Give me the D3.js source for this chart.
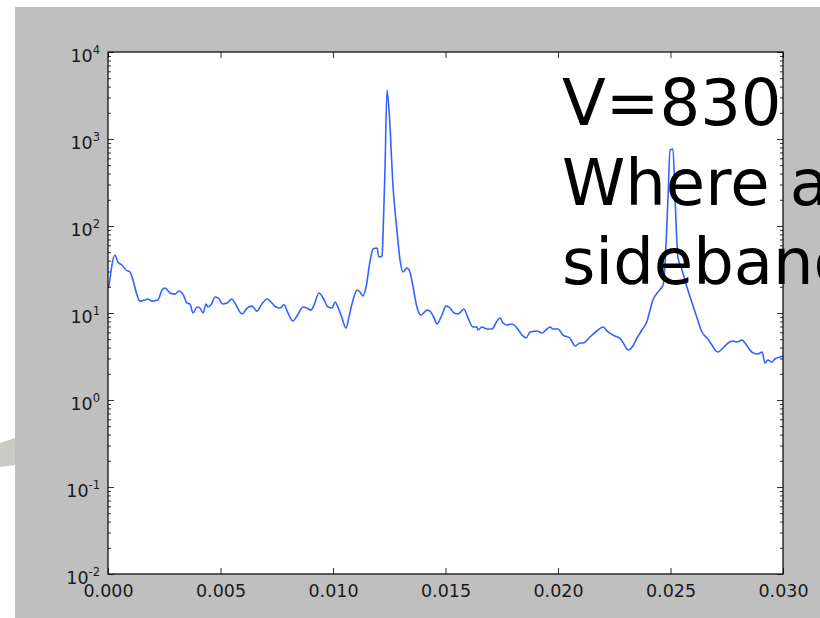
<!DOCTYPE html>
<html>
<head>
<meta charset="utf-8">
<script src="https://cdn.jsdelivr.net/npm/d3@7"></script>
<style>
  html, body { margin: 0; padding: 0; background: #ffffff; }
  svg { display: block; }
  text { font-family: "DejaVu Sans", sans-serif; }
</style>
</head>
<body>
<svg id="chart" width="820" height="618"></svg>
<script>
// ---- data ----
const freq = [
  0.00004, 0.00031, 0.00044, 0.00062, 0.00080, 0.00098, 0.00111, 0.00129, 0.00142, 0.00164,
  0.00178, 0.00196, 0.00222, 0.00240, 0.00253, 0.00276, 0.00298, 0.00316, 0.00333, 0.00351,
  0.00364, 0.00378, 0.00396, 0.00409, 0.00422, 0.00436, 0.00444, 0.00458, 0.00476, 0.00489,
  0.00511, 0.00529, 0.00551, 0.00564, 0.00596, 0.00618, 0.00640, 0.00662, 0.00684, 0.00707,
  0.00729, 0.00747, 0.00764, 0.00782, 0.00800, 0.00822, 0.00840, 0.00867, 0.00884, 0.00902,
  0.00916, 0.00938, 0.00956, 0.00978, 0.00996, 0.01009, 0.01022, 0.01040, 0.01058, 0.01071,
  0.01089, 0.01107, 0.01120, 0.01133, 0.01147, 0.01164, 0.01178, 0.01196, 0.01204, 0.01218,
  0.01222, 0.01231, 0.01240, 0.01249, 0.01267, 0.01284, 0.01298, 0.01311, 0.01329, 0.01342,
  0.01356, 0.01373, 0.01391, 0.01418, 0.01431, 0.01449, 0.01462, 0.01484, 0.01502, 0.01516,
  0.01538, 0.01556, 0.01582, 0.01600, 0.01622, 0.01640, 0.01644, 0.01662, 0.01684, 0.01707,
  0.01724, 0.01742, 0.01756, 0.01773, 0.01796, 0.01818, 0.01840, 0.01858, 0.01876, 0.01907,
  0.01929, 0.01951, 0.01964, 0.01978, 0.02000, 0.02022, 0.02053, 0.02076, 0.02098, 0.02111,
  0.02142, 0.02173, 0.02200, 0.02222, 0.02253, 0.02276, 0.02298, 0.02311, 0.02333, 0.02351,
  0.02373, 0.02396, 0.02409, 0.02422, 0.02444, 0.02462, 0.02467, 0.02476, 0.02489, 0.02498,
  0.02511, 0.02520, 0.02533, 0.02551, 0.02573, 0.02596, 0.02618, 0.02640, 0.02662, 0.02684,
  0.02698, 0.02711, 0.02733, 0.02756, 0.02778, 0.02796, 0.02818, 0.02831, 0.02853, 0.02867,
  0.02889, 0.02907, 0.02920, 0.02933, 0.02951, 0.02964, 0.02987, 0.03000
];
const amplitude = [
  19.9, 46.4, 38.6, 35.6, 31.2, 29.6, 23.9, 16.1, 13.7, 14.1,
  14.5, 13.7, 14.1, 18.4, 19.4, 17.0, 16.5, 17.9, 16.5, 13.0,
  12.7, 10.0, 11.7, 11.4, 10.0, 12.7, 11.7, 12.4, 15.3, 14.9,
  12.7, 13.0, 14.5, 13.0, 9.74, 11.4, 12.0, 10.5, 12.7, 14.5,
  13.0, 11.7, 11.4, 12.4, 10.0, 8.09, 9.24, 11.7, 11.4, 10.8,
  12.4, 17.0, 14.9, 11.7, 11.4, 13.4, 11.7, 8.77, 6.72, 9.0,
  14.1, 18.4, 17.4, 15.7, 19.9, 38.6, 54.4, 55.9, 44.0, 45.2,
  74.8, 440, 3660, 2150, 281, 90, 40.6, 29.6, 32.9, 29.6,
  19.9, 11.7, 9.48, 10.8, 10.5, 8.77, 7.48, 9.48, 12.0, 11.7,
  10.0, 9.74, 11.1, 8.77, 6.90, 6.90, 6.38, 6.90, 6.55, 6.55,
  7.67, 8.77, 7.67, 7.28, 7.48, 6.72, 5.58, 5.16, 6.05, 6.21,
  5.89, 6.55, 6.90, 6.55, 6.55, 5.58, 5.16, 4.18, 4.52, 4.52,
  5.30, 6.21, 6.90, 6.05, 5.44, 5.10, 4.18, 3.76, 4.18, 5.16,
  6.38, 8.09, 10.8, 14.1, 17.4, 19.9, 21.0, 37.6, 215, 748,
  767, 215, 44.0, 31.2, 19.9, 13.0, 8.77, 6.05, 5.16, 4.29,
  3.76, 3.56, 3.96, 4.52, 4.77, 4.64, 4.89, 4.52, 3.76, 3.47,
  3.38, 3.56, 2.66, 2.88, 2.73, 2.96, 3.12, 3.21
];
const xTicks = [0, 0.005, 0.010, 0.015, 0.020, 0.025, 0.030];
const xTickLabels = ["0.000", "0.005", "0.010", "0.015", "0.020", "0.025", "0.030"];
const yExponents = [-2, -1, 0, 1, 2, 3, 4];
const annotationLines = ["V=830", "Where a", "sideband"];

// ---- drawing ----
const W = 820, H = 618;
const plot = { left: 108, right: 783, top: 52, bottom: 574 };
const svg = d3.select("#chart");

// page background pieces
svg.append("rect").attr("x", 0).attr("y", 0).attr("width", W).attr("height", H).attr("fill", "#ffffff");
svg.append("rect").attr("x", 15).attr("y", 7).attr("width", W - 15).attr("height", H - 7).attr("fill", "#bfbfbf");
svg.append("path")
  .attr("d", "M0,443 L15,438 L15,465 L0,467 Z")
  .attr("fill", "#cacac4");

const x = d3.scaleLinear().domain([0, 0.03]).range([plot.left, plot.right]);
const y = d3.scaleLog().domain([1e-2, 1e4]).range([plot.bottom, plot.top]);

// plot area
svg.append("rect")
  .attr("x", plot.left).attr("y", plot.top)
  .attr("width", plot.right - plot.left).attr("height", plot.bottom - plot.top)
  .attr("fill", "#ffffff");

const majorY = yExponents.map(e => Math.pow(10, e));
const minorY = [];
yExponents.slice(0, -1).forEach(e => {
  for (let k = 2; k <= 9; k++) minorY.push(k * Math.pow(10, e));
});

function styleAxis(g) {
  g.select(".domain").remove();
  g.selectAll(".tick line").attr("stroke", "#333").attr("stroke-width", 1);
}

// bottom x axis
const xAxisB = svg.append("g")
  .attr("transform", `translate(0,${plot.bottom})`)
  .call(d3.axisBottom(x).tickValues(xTicks).tickSize(-6).tickPadding(11)
    .tickFormat((d, i) => xTickLabels[i]));
styleAxis(xAxisB);
xAxisB.selectAll(".tick text")
  .attr("fill", "#1a1a1a").attr("font-size", 17.5)
  .attr("font-family", "DejaVu Sans, sans-serif");

// top x axis (ticks only)
const xAxisT = svg.append("g")
  .attr("transform", `translate(0,${plot.top})`)
  .call(d3.axisTop(x).tickValues(xTicks).tickSize(-6).tickFormat(() => ""));
styleAxis(xAxisT);

// left y axis majors + minors
const yAxisL = svg.append("g")
  .attr("transform", `translate(${plot.left},0)`)
  .call(d3.axisLeft(y).tickValues(majorY).tickSize(-6).tickFormat(() => ""));
styleAxis(yAxisL);
const yAxisLm = svg.append("g")
  .attr("transform", `translate(${plot.left},0)`)
  .call(d3.axisLeft(y).tickValues(minorY).tickSize(-3).tickFormat(() => ""));
styleAxis(yAxisLm);

// right y axis
const yAxisR = svg.append("g")
  .attr("transform", `translate(${plot.right},0)`)
  .call(d3.axisRight(y).tickValues(majorY).tickSize(-6).tickFormat(() => ""));
styleAxis(yAxisR);
const yAxisRm = svg.append("g")
  .attr("transform", `translate(${plot.right},0)`)
  .call(d3.axisRight(y).tickValues(minorY).tickSize(-3).tickFormat(() => ""));
styleAxis(yAxisRm);

// y tick labels 10^n
const yLab = svg.append("g");
yExponents.forEach(e => {
  const t = yLab.append("text")
    .attr("x", plot.left - 8)
    .attr("y", y(Math.pow(10, e)) + 10)
    .attr("text-anchor", "end")
    .attr("fill", "#1a1a1a")
    .attr("font-size", 17.5);
  t.append("tspan").text("10");
  t.append("tspan").attr("dy", -8).attr("font-size", 11.5).text(String(e));
});

// data line
const pts = freq.map((f, i) => [f, amplitude[i]]);
const line = d3.line()
  .x(d => x(d[0]))
  .y(d => y(d[1]))
  .curve(d3.curveMonotoneX);
svg.append("path")
  .datum(pts)
  .attr("d", line)
  .attr("fill", "none")
  .attr("stroke", "#3264ff")
  .attr("stroke-width", 1.6)
  .attr("stroke-linejoin", "round");

// frame
svg.append("rect")
  .attr("x", plot.left).attr("y", plot.top)
  .attr("width", plot.right - plot.left).attr("height", plot.bottom - plot.top)
  .attr("fill", "none").attr("stroke", "#000").attr("stroke-width", 1.2);

// large annotation
const baselines = [125, 205, 284];
annotationLines.forEach((s, i) => {
  svg.append("text")
    .attr("x", 562)
    .attr("y", baselines[i])
    .attr("font-size", 64)
    .attr("fill", "#000")
    .text(s);
});
</script>
</body>
</html>
